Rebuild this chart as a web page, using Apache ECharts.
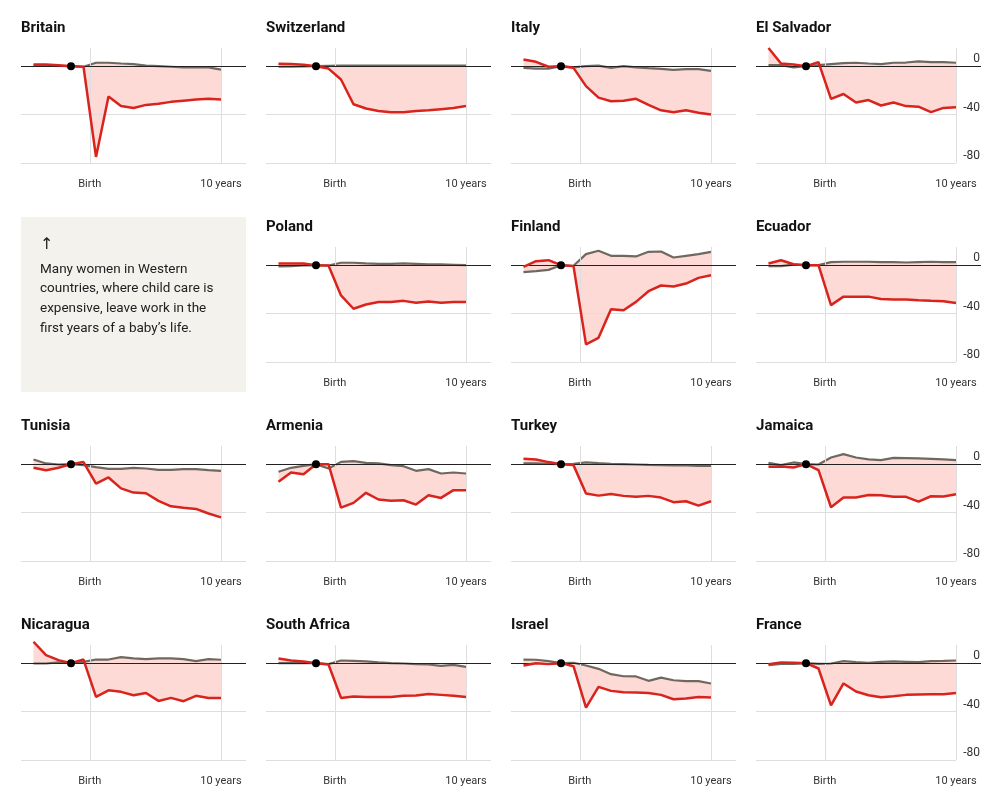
<!DOCTYPE html>
<html>
<head>
<meta charset="utf-8">
<script src="https://cdn.jsdelivr.net/npm/echarts@6/dist/echarts.min.js"></script>
<style>
  html, body { margin: 0; padding: 0; background: #fff; }
  #chart { width: 996px; height: 804px; }
</style>
</head>
<body>
<div id="chart"></div>
<script>
// event time in years, birth falls between -1 and 0
const eventYears = [-5, -4, -3, -2, -1, 0, 1, 2, 3, 4, 5, 6, 7, 8, 9, 10];
const refYear = -2;
const yTicks = [0, -40, -80];

// women (red) and men (grey), percent change in employment
const britainW = [1.4, 1.4, 0.8, 0, -0.5, -75, -25, -33, -34.5, -32, -31, -29.5, -28.5, -27.5, -27, -27.5];
const britainM = [0.3, 0.3, 0.3, 0, -0.5, 2.8, 2.8, 2.2, 1.7, 0.5, 0, -0.5, -1, -1, -1, -2.8];
const switzerlandW = [2, 1.7, 1.1, 0, -2, -11, -31.5, -35, -37, -38, -38, -37, -36.5, -35.5, -34.5, -33];
const switzerlandM = [-0.5, -0.5, -0.3, 0, 0.3, 0.5, 0.5, 0.5, 0.5, 0.5, 0.5, 0.5, 0.5, 0.5, 0.5, 0.5];
const italyW = [5.5, 3.6, -0.5, 0, -1.4, -16.5, -26, -29, -28.5, -27, -32, -36.5, -38, -36.5, -38.5, -40];
const italyM = [-1.4, -2, -2, 0, -1, 0, 0.5, -1.4, 0, -1, -1.7, -2.2, -3, -2.5, -2.5, -3.9];
const elSalvadorW = [15, 2.2, 1.4, 0, 3.3, -27, -23, -30, -28, -32.5, -30, -33, -33.5, -38, -34.5, -34];
const elSalvadorM = [0.8, 0.8, -1, 0, 0.8, 1.7, 2.5, 2.8, 2.2, 1.7, 2.8, 3, 3.9, 3.3, 3.3, 2.8];
const polandW = [1.4, 1.4, 1.4, 0, -0.3, -25, -36, -32.5, -30.5, -30.5, -29.5, -31, -30, -31, -30.5, -30.5];
const polandM = [-1, -0.8, -0.3, 0, -0.3, 2, 2, 1.4, 1.1, 1.1, 1.4, 1.1, 0.6, 0.6, 0.3, 0];
const finlandW = [-1.4, 3.3, 4.1, 0, -0.8, -65.4, -60, -36.4, -37.2, -30.3, -21.5, -16.8, -17.7, -15.2, -10.5, -8.3];
const finlandM = [-5.8, -5, -3.9, 0, -0.5, 9.1, 11.9, 7.7, 7.7, 7.2, 11, 11.3, 6.3, 7.7, 9.1, 11];
const ecuadorW = [1.4, 4.1, 0.8, 0, 0, -33, -26, -26, -26, -28, -28.3, -28.3, -29, -29.5, -29.8, -31.2];
const ecuadorM = [-0.8, -0.8, 0.5, 0, 0, 2.5, 2.8, 2.8, 2.8, 2.5, 2.5, 2.2, 2.5, 2.8, 2.5, 2.5];
const tunisiaW = [-3, -5, -3, 0, 1.7, -16, -11, -20, -23.5, -24, -30.3, -34.8, -36, -37, -40.8, -44];
const tunisiaM = [3.9, 0.6, -0.3, 0, -0.8, -2.5, -3.9, -3.9, -3, -3.6, -4.7, -4.7, -4.1, -4.1, -5, -5.5];
const armeniaW = [-14.6, -6.9, -8.3, 0, 0, -35.9, -32, -23.7, -29.2, -30.3, -29.8, -33.4, -25.7, -27.9, -21.5, -21.5];
const armeniaM = [-6.3, -3, -1.4, 0, -3.6, 1.9, 2.5, 1.1, 0.6, -0.8, -1.7, -5.5, -4.1, -7.7, -6.9, -7.7];
const turkeyW = [4.4, 3.9, 1.7, 0, -0.8, -24.3, -26, -24.6, -26.2, -27, -26.2, -27.6, -31.4, -30.6, -34.2, -30.6];
const turkeyM = [0.6, 0.6, 0.3, 0, 0.3, 1.4, 0.8, 0.3, 0, -0.3, -0.6, -0.8, -1.1, -1.1, -1.4, -1.4];
const jamaicaW = [-2.2, -1.9, -2.8, 0, -5, -35.6, -27.6, -27.6, -25.4, -25.7, -27, -27, -30.9, -26.5, -26.8, -24.8];
const jamaicaM = [1.1, -0.8, 1.4, 0, -0.3, 5.5, 8.3, 5.5, 3.9, 3.3, 5.2, 5, 4.7, 4.4, 3.9, 3.3];
const nicaraguaW = [17.7, 6.6, 2.5, 0, 3, -27.9, -22.4, -23.7, -26.5, -24.6, -31.2, -28.7, -31.4, -27, -28.7, -28.7];
const nicaraguaM = [-0.3, -0.3, 0.6, 0, 1.1, 3, 3, 5, 3.9, 3.3, 3.9, 3.9, 3.3, 1.7, 3.3, 2.8];
const southAfricaW = [3.9, 2.2, 1.4, 0, -1.1, -28.7, -27.6, -27.9, -27.9, -27.9, -27, -26.8, -25.4, -26.2, -27, -27.9];
const southAfricaM = [0, 0, 0, 0, -0.8, 2.2, 1.9, 1.4, 0.6, 0, -0.3, -0.8, -1.1, -2.2, -1.4, -3];
const israelW = [-1.9, 0, -0.8, 0, -2.5, -36.7, -19.6, -22.9, -24, -24.3, -24.6, -26.2, -29.8, -29.2, -27.9, -28.4];
const israelM = [3, 2.8, 1.7, 0, 0.3, -1.9, -4.7, -9.1, -10.8, -11, -14.6, -11.9, -14.1, -14.9, -14.9, -16.8];
const franceW = [-0.8, 0.6, 0.3, 0, -4.4, -34.8, -16.8, -23.4, -26.5, -28.1, -27.3, -26.2, -25.9, -25.7, -25.7, -24.6];
const franceM = [-1.7, -0.6, -0.6, 0, -0.6, -0.3, 1.7, 0.8, 0.3, 1.1, 1.4, 1.1, 0.8, 1.7, 1.9, 2.2];

// slot 4 holds the note box
const panels = [
  { name: 'Britain', slot: 0, w: britainW, m: britainM },
  { name: 'Switzerland', slot: 1, w: switzerlandW, m: switzerlandM },
  { name: 'Italy', slot: 2, w: italyW, m: italyM },
  { name: 'El Salvador', slot: 3, w: elSalvadorW, m: elSalvadorM },
  { name: 'Poland', slot: 5, w: polandW, m: polandM },
  { name: 'Finland', slot: 6, w: finlandW, m: finlandM },
  { name: 'Ecuador', slot: 7, w: ecuadorW, m: ecuadorM },
  { name: 'Tunisia', slot: 8, w: tunisiaW, m: tunisiaM },
  { name: 'Armenia', slot: 9, w: armeniaW, m: armeniaM },
  { name: 'Turkey', slot: 10, w: turkeyW, m: turkeyM },
  { name: 'Jamaica', slot: 11, w: jamaicaW, m: jamaicaM },
  { name: 'Nicaragua', slot: 12, w: nicaraguaW, m: nicaraguaM },
  { name: 'South Africa', slot: 13, w: southAfricaW, m: southAfricaM },
  { name: 'Israel', slot: 14, w: israelW, m: israelM },
  { name: 'France', slot: 15, w: franceW, m: franceM }
];

const RED = '#d9231d';
const GREY = '#6f685f';
const FILL = '#fddad6';
const GRID = '#dedede';
const FONT = 'Roboto, "Liberation Sans", sans-serif';

const chart = echarts.init(document.getElementById('chart'), null, { renderer: 'canvas' });

const titles = [], grids = [], xAxes = [], yAxes = [], series = [];

panels.forEach(function (p, i) {
  const col = p.slot % 4;
  const row = Math.floor(p.slot / 4);
  const left = 21 + 245 * col;
  const top = 48 + 199 * row;
  const lastCol = col === 3;

  titles.push({
    text: p.name,
    left: left,
    top: top - 29,
    padding: 0,
    textStyle: { fontFamily: FONT, fontSize: 15, fontWeight: 'bold', color: '#121212', lineHeight: 18 }
  });
  grids.push({ left: left, top: top, width: 225, height: 115 });
  xAxes.push({
    gridIndex: i, type: 'value', min: -6, max: 12,
    axisLine: { show: false }, axisTick: { show: false }, splitLine: { show: false },
    axisLabel: {
      customValues: [-0.5, 10],
      formatter: function (v) { return v === 10 ? '10 years' : 'Birth'; },
      margin: 16, color: '#333', fontFamily: FONT, fontSize: 11
    }
  });
  yAxes.push({
    gridIndex: i, type: 'value', min: -80, max: 15, position: 'right',
    axisLine: { show: false }, axisTick: { show: false }, splitLine: { show: false },
    axisLabel: {
      show: lastCol, inside: true, customValues: yTicks, margin: 1,
      verticalAlign: 'bottom', padding: [0, 0, 1, 0],
      color: '#333', fontFamily: FONT, fontSize: 12
    }
  });

  const xy = function (arr) { return eventYears.map(function (x, j) { return [x, arr[j]]; }); };
  const gridEnd = lastCol ? 10 : 12;
  const hLine = function (v, end) { return [{ coord: [-6, v] }, { coord: [end, v] }]; };
  const vLine = function (v) { return [{ coord: [v, -80] }, { coord: [v, 15] }]; };

  // light grid lines
  series.push({
    type: 'line', xAxisIndex: i, yAxisIndex: i, data: [], z: 1, silent: true,
    markLine: {
      silent: true, symbol: 'none', animation: false, label: { show: false },
      lineStyle: { color: GRID, width: 1, type: 'solid' },
      data: [vLine(-0.5), vLine(10), hLine(-40, gridEnd), hLine(-80, gridEnd)]
    }
  });
  // gap between the two lines
  series.push({
    type: 'custom', xAxisIndex: i, yAxisIndex: i, z: 2, silent: true,
    data: [[eventYears[0], 0]],
    renderItem: function (params, api) {
      const pts = [];
      eventYears.forEach(function (x, j) { pts.push(api.coord([x, p.w[j]])); });
      for (let j = eventYears.length - 1; j >= 0; j--) pts.push(api.coord([eventYears[j], p.m[j]]));
      return { type: 'polygon', shape: { points: pts }, style: { fill: FILL } };
    }
  });
  // zero line
  series.push({
    type: 'line', xAxisIndex: i, yAxisIndex: i, data: [], z: 3, silent: true,
    markLine: {
      silent: true, symbol: 'none', animation: false, label: { show: false },
      lineStyle: { color: '#222', width: 1, type: 'solid' },
      data: [hLine(0, 12)]
    }
  });
  series.push({
    name: 'Men', type: 'line', xAxisIndex: i, yAxisIndex: i, z: 4, clip: false,
    data: xy(p.m), showSymbol: false, lineStyle: { color: GREY, width: 2.2 }
  });
  series.push({
    name: 'Women', type: 'line', xAxisIndex: i, yAxisIndex: i, z: 5, clip: false,
    data: xy(p.w), showSymbol: false, lineStyle: { color: RED, width: 2.5 }
  });
  series.push({
    type: 'scatter', xAxisIndex: i, yAxisIndex: i, z: 6,
    data: [[refYear, 0]], symbolSize: 8, itemStyle: { color: '#000', opacity: 1 }
  });
});

const option = {
  animation: false,
  backgroundColor: '#fff',
  title: titles,
  grid: grids,
  xAxis: xAxes,
  yAxis: yAxes,
  series: series,
  graphic: [
    { type: 'rect', left: 21, top: 217, shape: { width: 225, height: 175 }, style: { fill: '#f4f2ed' }, z: 0 },
    { type: 'text', left: 40, top: 237, style: { text: '\u2191', font: '16px "DejaVu Sans", sans-serif', fill: '#222' } },
    {
      type: 'text', left: 40, top: 259.5,
      style: {
        text: 'Many women in Western\ncountries, where child care is\nexpensive, leave work in the\nfirst years of a baby\u2019s life.',
        fontFamily: FONT, fontSize: 13.5, lineHeight: 19.7, fill: '#222'
      }
    }
  ]
};

chart.setOption(option);
</script>
</body>
</html>
